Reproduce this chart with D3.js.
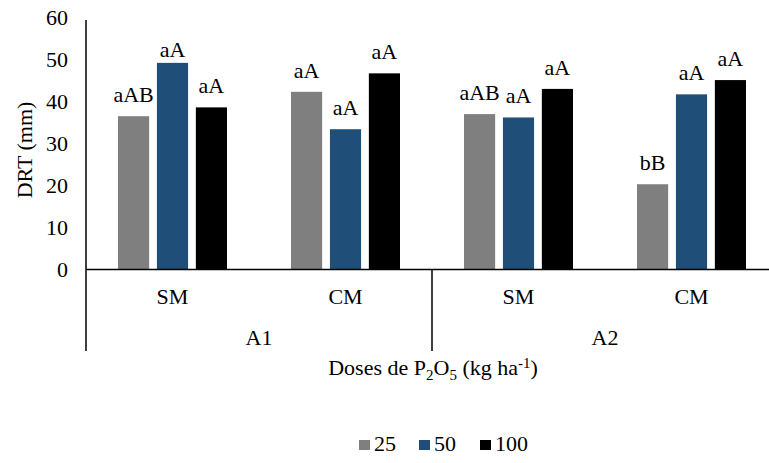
<!DOCTYPE html>
<html>
<head>
<meta charset="utf-8">
<script src="https://cdn.jsdelivr.net/npm/d3@7"></script>
<style>
  html, body { margin: 0; padding: 0; background: #fff; }
  svg { display: block; }
</style>
</head>
<body>
<svg id="chart" width="769" height="463"></svg>
<script>
// ---- data ----
const groups = ["A1", "A2"];
const categories = ["A1|SM", "A1|CM", "A2|SM", "A2|CM"];
const categoryLabels = ["SM", "CM", "SM", "CM"];
const series = ["25", "50", "100"];
const values25 = [36.5, 42.3, 37.0, 20.3];
const values50 = [49.2, 33.4, 36.2, 41.7];
const values100 = [38.6, 46.7, 43.0, 45.1];
const labels25 = ["aAB", "aA", "aAB", "bB"];
const labels50 = ["aA", "aA", "aA", "aA"];
const labels100 = ["aA", "aA", "aA", "aA"];
const yTicks = [0, 10, 20, 30, 40, 50, 60];
const colors = ["#7f7f7f", "#1f4e79", "#000000"];

const seriesValues = [values25, values50, values100];
const seriesLabels = [labels25, labels50, labels100];

const rows = [];
categories.forEach((c, i) => {
  series.forEach((s, j) => {
    rows.push({ cat: c, s: s, v: seriesValues[j][i], lab: seriesLabels[j][i], color: colors[j] });
  });
});

const svg = d3.select("#chart");
function styled(sel) {
  return sel.style("font-family", "'Liberation Serif'").style("font-size", "22px").style("fill", "#000");
}

const x0 = d3.scaleBand().domain(categories).range([86, 778]).padding(0);
const x1 = d3.scaleBand().domain(series).range([32, 141]).paddingInner(0.2).paddingOuter(0);
const y = d3.scaleLinear().domain([0, 60]).range([269.5, 17.5]);

// y tick labels
styled(svg.append("g").selectAll("text").data(yTicks).join("text"))
  .attr("x", 68).attr("y", d => y(d))
  .attr("dy", "0.35em")
  .attr("text-anchor", "end")
  .text(d => d);

// bars
svg.append("g").selectAll("rect").data(rows).join("rect")
  .attr("x", d => x0(d.cat) + x1(d.s))
  .attr("width", x1.bandwidth())
  .attr("y", d => y(d.v))
  .attr("height", d => y(0) - y(d.v))
  .attr("fill", d => d.color);

// bar labels
styled(svg.append("g").selectAll("text").data(rows).join("text"))
  .attr("x", d => x0(d.cat) + x1(d.s) + x1.bandwidth() / 2)
  .attr("y", d => Math.max(y(d.v) - 14, y(60) + 39))
  .attr("text-anchor", "middle")
  .text(d => d.lab);

// axes lines
const axisG = svg.append("g").attr("stroke", "#000").attr("stroke-width", 1.5);
axisG.append("line").attr("x1", 86).attr("x2", 86).attr("y1", 20).attr("y2", 351);
axisG.append("line").attr("x1", 86).attr("x2", 778).attr("y1", y(0)).attr("y2", y(0));
axisG.append("line").attr("x1", x0("A2|SM")).attr("x2", x0("A2|SM")).attr("y1", y(0)).attr("y2", 351);

// category labels
styled(svg.append("g").selectAll("text").data(categories).join("text"))
  .attr("x", d => x0(d) + x0.bandwidth() / 2)
  .attr("y", 304)
  .attr("text-anchor", "middle")
  .text((d, i) => categoryLabels[i]);

// group labels
styled(svg.append("g").selectAll("text").data(groups).join("text"))
  .attr("x", g => {
    const cs = categories.filter(c => c.startsWith(g + "|"));
    return (x0(cs[0]) + x0(cs[cs.length - 1]) + x0.bandwidth()) / 2;
  })
  .attr("y", 345)
  .attr("text-anchor", "middle")
  .text(g => g);

// x axis title
const xt = styled(svg.append("text"))
  .attr("x", 433).attr("y", 375)
  .attr("text-anchor", "middle");
xt.append("tspan").text("Doses de P");
xt.append("tspan").attr("dy", 5).style("font-size", "15px").text("2");
xt.append("tspan").attr("dy", -5).text("O");
xt.append("tspan").attr("dy", 5).style("font-size", "15px").text("5");
xt.append("tspan").attr("dy", -5).text(" (kg ha");
xt.append("tspan").attr("dy", -7).style("font-size", "15px").text("-1");
xt.append("tspan").attr("dy", 7).text(")");

// y axis title
styled(svg.append("text"))
  .attr("transform", "translate(32,150) rotate(-90)")
  .attr("text-anchor", "middle")
  .text("DRT (mm)");

// legend
const legend = svg.append("g");
const legX = [359, 419, 480];
series.forEach((s, j) => {
  legend.append("rect").attr("x", legX[j]).attr("y", 440).attr("width", 11).attr("height", 10).attr("fill", colors[j]);
  styled(legend.append("text")).attr("x", legX[j] + 15).attr("y", 451).text(s);
});
</script>
</body>
</html>
